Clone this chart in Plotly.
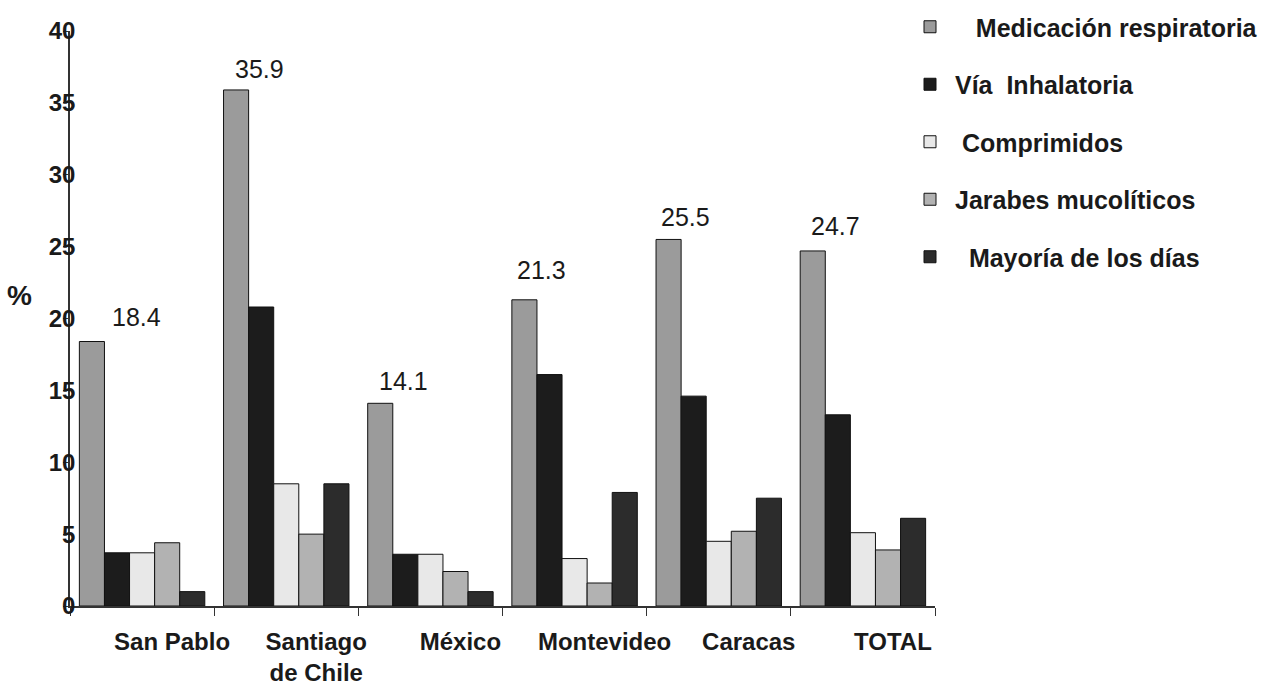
import plotly.graph_objects as go

# Categories and series (percent)
ciudades = ["San Pablo", "Santiago<br>de Chile", "México", "Montevideo", "Caracas", "TOTAL"]

medicacion_respiratoria = [18.4, 35.9, 14.1, 21.3, 25.5, 24.7]
via_inhalatoria = [3.7, 20.8, 3.6, 16.1, 14.6, 13.3]
comprimidos = [3.7, 8.5, 3.6, 3.3, 4.5, 5.1]
jarabes_mucoliticos = [4.4, 5.0, 2.4, 1.6, 5.2, 3.9]
mayoria_de_los_dias = [1.0, 8.5, 1.0, 7.9, 7.5, 6.1]

y_ticks = [0, 5, 10, 15, 20, 25, 30, 35, 40]

NBSP = "\u00a0"
series = [
    (NBSP * 3 + "Medicación respiratoria", medicacion_respiratoria, "#9b9b9b"),
    ("Vía" + NBSP * 2 + "Inhalatoria", via_inhalatoria, "#1c1c1c"),
    (NBSP + "Comprimidos", comprimidos, "#e8e8e8"),
    ("Jarabes mucolíticos", jarabes_mucoliticos, "#b2b2b2"),
    (NBSP * 2 + "Mayoría de los días", mayoria_de_los_dias, "#2c2c2c"),
]

FONT = "Liberation Sans, Arial, sans-serif"

# pixel offsets of the value labels relative to their bar tops
label_dx = [-6, -27, -27, -33, -33, -27]
label_dy = [25, 21, 22, 30, 22, 25]

fig = go.Figure()
for i, (name, vals, color) in enumerate(series):
    fig.add_trace(go.Bar(
        x=ciudades, y=vals, name=name,
        marker=dict(color=color, line=dict(color="#111111", width=1)),
        legendgroup=f"g{i}",
    ))

# Value labels above the first series
for c, v, dx, dy in zip(ciudades, medicacion_respiratoria, label_dx, label_dy):
    fig.add_annotation(
        x=c, y=v, text=f"{v:.1f}", showarrow=False,
        xshift=dx, yshift=dy,
        font=dict(family=FONT, size=25, color="#1a1a1a"),
    )

fig.add_annotation(
    xref="paper", yref="paper", x=-0.058, y=0.54, text="<b>%</b>",
    showarrow=False, xanchor="center",
    font=dict(family=FONT, size=28, color="#1a1a1a"),
)

fig.update_layout(
    width=1270, height=688,
    margin=dict(l=70, r=335, t=31, b=82, autoexpand=False),
    paper_bgcolor="white", plot_bgcolor="white",
    barmode="group", bargap=0.13, bargroupgap=0,
    showlegend=True,
    legend=dict(
        xref="container", yref="container", x=905 / 1270, y=1 - 4 / 688,
        xanchor="left", yanchor="top",
        tracegroupgap=22, traceorder="grouped", itemwidth=40,
        font=dict(family=FONT, size=25, color="#1a1a1a", weight="bold"),
        bgcolor="rgba(0,0,0,0)",
    ),
    xaxis=dict(
        type="category", showline=True, linecolor="#333333", linewidth=1.5,
        ticks="outside", tickson="boundaries", ticklen=8, tickcolor="#333333",
        tickangle=0, ticklabelshift=30, ticklabelstandoff=13, automargin=False,
        tickfont=dict(family=FONT, size=24, color="#1a1a1a", weight="bold"),
        showgrid=False,
    ),
    yaxis=dict(
        range=[0, 40], tickvals=y_ticks, showline=True, linecolor="#333333", linewidth=1.5,
        ticks="outside", ticklen=5, tickcolor="#333333",
        ticklabelstandoff=-17, automargin=False,
        tickfont=dict(family=FONT, size=24, color="#1a1a1a", weight="bold"),
        showgrid=False, zeroline=False,
    ),
)

fig.write_html("out.html")
